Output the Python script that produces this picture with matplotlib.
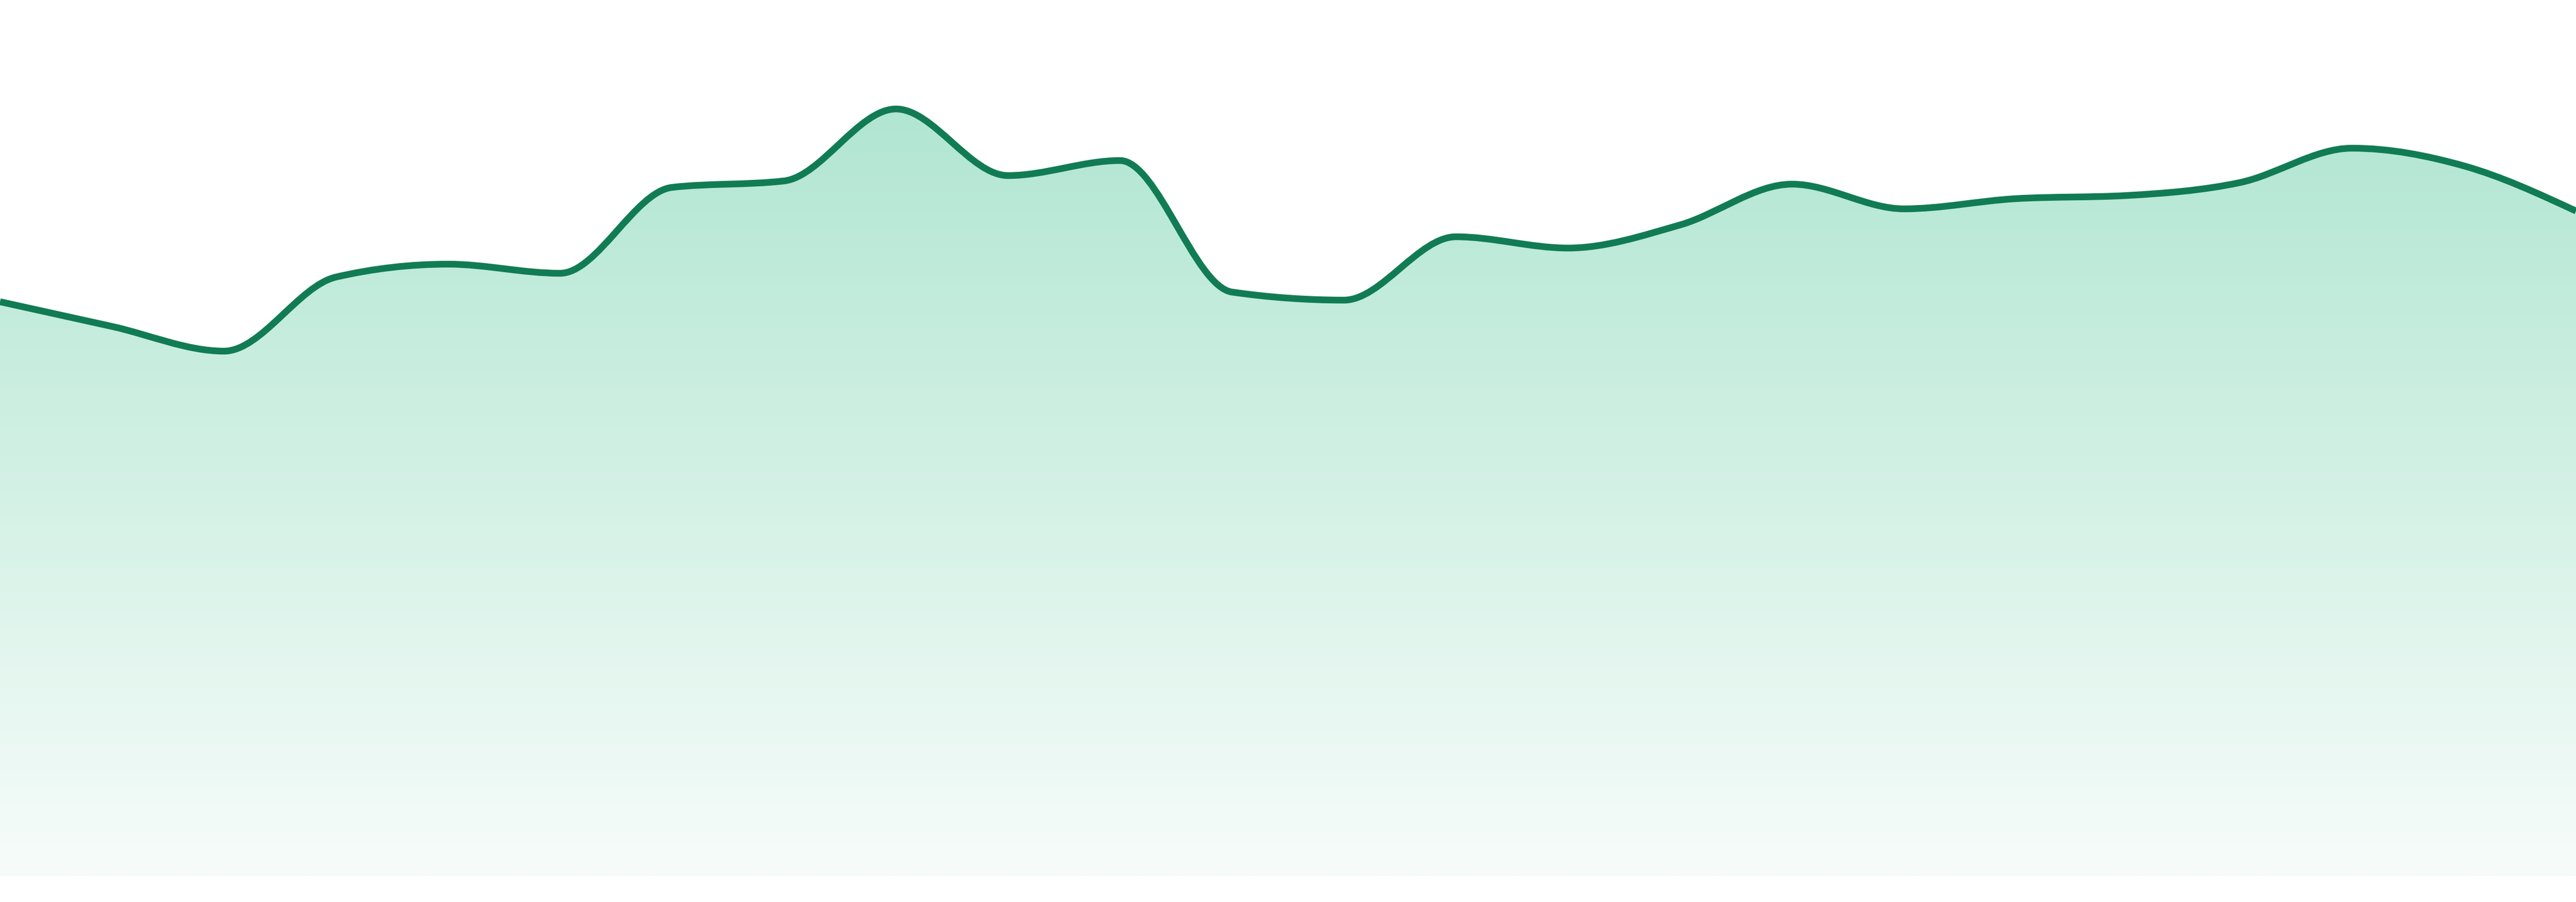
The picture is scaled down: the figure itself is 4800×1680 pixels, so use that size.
import numpy as np
import matplotlib
matplotlib.use("Agg")
import matplotlib.pyplot as plt
from matplotlib.path import Path
from matplotlib.patches import PathPatch

# Data (24 equally spaced points)
values = [1070, 1024, 978, 1116, 1140, 1123, 1283, 1295, 1429, 1305, 1333, 1088,
          1073, 1191, 1170, 1213, 1289, 1243, 1262, 1268, 1292, 1356, 1323, 1239]
x_index = list(range(len(values)))
y_max = 1632

LINE_COLOR = "#117c53"
TOP_RGB = np.array([167, 227, 204]) / 255.0
BOTTOM_RGB = np.array([247, 252, 250]) / 255.0


def monotone_tangents(x, y):
    x = np.asarray(x, float)
    y = np.asarray(y, float)
    n = len(x)
    h = np.diff(x)
    s = np.diff(y) / h
    t = np.zeros(n)
    for i in range(1, n - 1):
        s0, s1 = s[i - 1], s[i]
        h0, h1 = h[i - 1], h[i]
        p = (s0 * h1 + s1 * h0) / (h0 + h1)
        t[i] = (np.sign(s0) + np.sign(s1)) * min(abs(s0), abs(s1), 0.5 * abs(p))
    t[0] = (3 * s[0] - t[1]) / 2
    t[-1] = (3 * s[-1] - t[-2]) / 2
    return t


def curve_vertices(x, y):
    t = monotone_tangents(x, y)
    verts = [(x[0], y[0])]
    codes = [Path.MOVETO]
    for i in range(len(x) - 1):
        dx = (x[i + 1] - x[i]) / 3.0
        verts += [(x[i] + dx, y[i] + dx * t[i]),
                  (x[i + 1] - dx, y[i + 1] - dx * t[i + 1]),
                  (x[i + 1], y[i + 1])]
        codes += [Path.CURVE4] * 3
    return verts, codes


W, H, DPI = 4800, 1680, 100
fig = plt.figure(figsize=(W / DPI, H / DPI), dpi=DPI)
fig.patch.set_facecolor("white")
ax = fig.add_axes([0, 48 / H, 1, 1632 / H])
ax.set_xlim(x_index[0], x_index[-1])
ax.set_ylim(0, y_max)
ax.axis("off")

verts, codes = curve_vertices(x_index, values)

# Fill area with vertical gradient
fill_verts = list(verts) + [(x_index[-1], 0), (x_index[0], 0), (x_index[0], values[0])]
fill_codes = list(codes) + [Path.LINETO, Path.LINETO, Path.CLOSEPOLY]
fill_path = Path(fill_verts, fill_codes)
patch = PathPatch(fill_path, facecolor="none", edgecolor="none")
ax.add_patch(patch)

frac = np.linspace(0, 1, 512)[:, None]
grad = TOP_RGB[None, :] * (1 - frac) + BOTTOM_RGB[None, :] * frac
grad = grad[:, None, :]
im = ax.imshow(grad, extent=[x_index[0], x_index[-1], 0, y_max], origin="upper",
               aspect="auto", interpolation="bilinear", zorder=1)
im.set_clip_path(patch)

# Line
line_path = Path(verts, codes)
line_patch = PathPatch(line_path, facecolor="none", edgecolor=LINE_COLOR,
                       linewidth=12.5 * 72 / DPI, capstyle="butt", joinstyle="round",
                       zorder=3, clip_on=False)
ax.add_patch(line_patch)

fig.savefig("out.png", dpi=DPI, facecolor="white")
